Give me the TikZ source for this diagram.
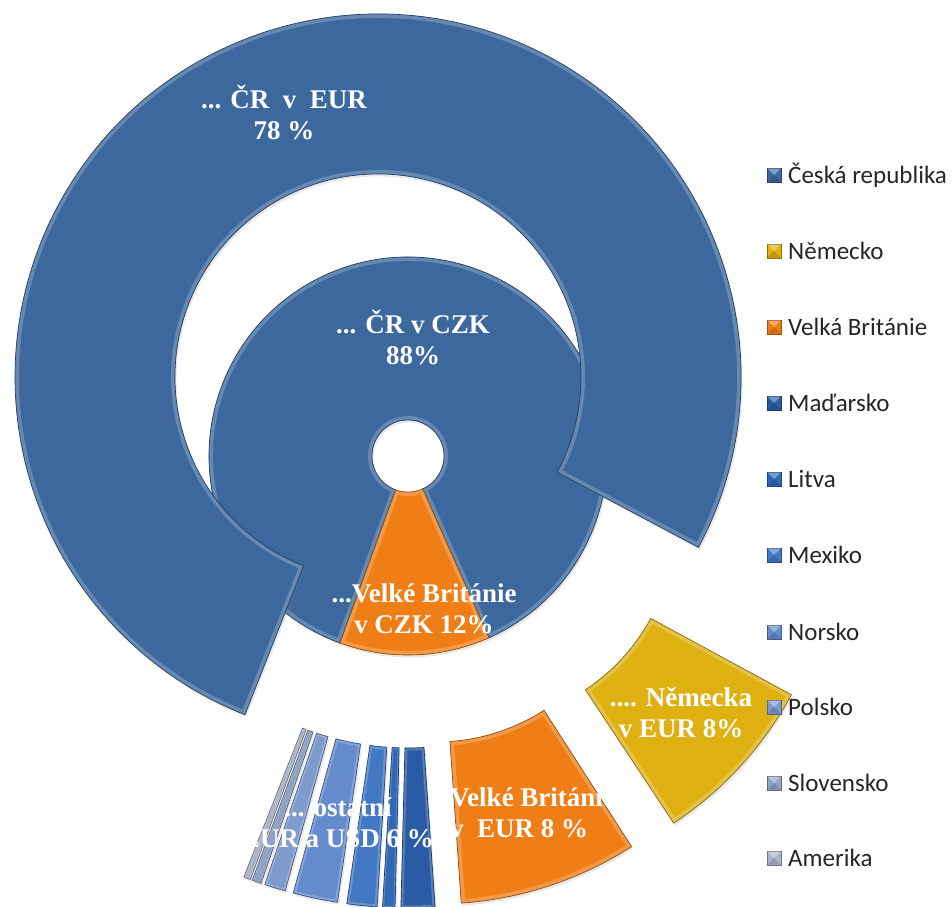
\documentclass[tikz,border=0pt]{standalone}
\usepackage{fontspec}
\setmainfont{Liberation Serif}
\newfontfamily\legfont{Carlito}
\usetikzlibrary{calc,shadows}
\definecolor{crblue}{RGB}{60,104,158}
\definecolor{ukor}{RGB}{240,126,22}
\definecolor{deyel}{RGB}{222,176,18}
\definecolor{huc}{RGB}{42,92,165}
\definecolor{ltc}{RGB}{48,104,182}
\definecolor{mxc}{RGB}{66,120,196}
\definecolor{noc}{RGB}{100,140,205}
\definecolor{plc}{RGB}{125,155,205}
\definecolor{skc}{RGB}{145,163,196}
\definecolor{amc}{RGB}{172,182,202}
\tikzset{
  seglabel/.style={text=white, font=\fontsize{27}{31}\selectfont\bfseries, align=center, inner sep=0pt},
  legtext/.style={anchor=west, font=\legfont\fontsize{25}{28}\selectfont, text=black!85, inner sep=0pt},
  legmark/.style={minimum size=14pt, inner sep=0pt, draw=#1!65!black, fill=#1, line width=0.6pt},
}
% #1 colour, #2 centre, #3 inner radius, #4 outer radius, #5 start angle, #6 end angle, #7 highlight width
\newcommand\ringseg[7]{%
  \def\segp{(#5:#4) arc[start angle=#5,end angle=#6,radius=#4] -- (#6:#3) arc[start angle=#6,end angle=#5,radius=#3] -- cycle}%
  \begin{scope}[shift={(#2)}]
    \fill[#1, drop shadow={opacity=0.18, shadow xshift=1.5pt, shadow yshift=-2.5pt}] \segp;
    \begin{scope}
      \clip \segp;
      \draw[white, opacity=0.22, line width=#7] \segp;
    \end{scope}
    \draw[#1!60!black, line width=0.7pt] \segp;
  \end{scope}}
\begin{document}
\begin{tikzpicture}[x=1pt,y=1pt]
\clip (0,0) rectangle (952,906);
\fill[white] (0,0) rectangle (952,906);
% inner ring
\ringseg{crblue}{408,450}{36}{199}{-66}{250}{8pt}
\ringseg{ukor}{408,450}{36}{199}{-110}{-66}{8pt}
% outer ring
\ringseg{crblue}{378,529}{203}{363}{-28}{248.5}{8pt}
\ringseg{deyel}{475,383}{200}{360}{-56.5}{-28.5}{8pt}
\ringseg{ukor}{436,364}{200}{362}{-86}{-57.3}{8pt}
\ringseg{huc}{$(408,448)+(-88.725:90)$}{200}{360}{-91.45}{-86}{5pt}
\ringseg{ltc}{$(408,448)+(-92.45:90)$}{200}{360}{-93.45}{-91.45}{3pt}
\ringseg{mxc}{$(408,448)+(-95.875:90)$}{200}{360}{-98.3}{-93.45}{5pt}
\ringseg{noc}{$(408,448)+(-101.9:90)$}{200}{360}{-105.5}{-98.3}{5pt}
\ringseg{plc}{$(408,448)+(-107.2:90)$}{200}{360}{-108.9}{-105.5}{4pt}
\ringseg{skc}{$(408,448)+(-109.65:90)$}{200}{360}{-110.4}{-108.9}{2pt}
\ringseg{amc}{$(408,448)+(-110.95:90)$}{200}{360}{-111.5}{-110.4}{2pt}
% data labels
\node[seglabel] (lcreur) at (284,793.5) {... ČR\ \ v\ \ EUR\\78 \%};
\node[seglabel] (lcrczk) at (413,568.5) {... ČR v CZK\\88\%};
\node[seglabel] (lukczk) at (424,297.5) {...Velké Británie\\v CZK 12\%};
\node[seglabel] (lde) at (681,193.5) {.... Německa\\v EUR 8\%};
\node[seglabel, align=left, anchor=west] (lukeur) at (450,93.5) {Velké Británie\\v\ \ EUR 8 \%};
\node[seglabel] (loth) at (338,83.5) {... ostatní\\EUR a USD 6 \%};
% legend
\node[legmark=crblue] (m1) at (774,731) {}; \node[legtext] (t1) at (788,731) {Česká republika};
\node[legmark=deyel] (m2) at (774,655) {}; \node[legtext] (t2) at (788,655) {Německo};
\node[legmark=ukor] (m3) at (774,579) {}; \node[legtext] (t3) at (788,579) {Velká Británie};
\node[legmark=huc] (m4) at (774,503) {}; \node[legtext] (t4) at (788,503) {Maďarsko};
\node[legmark=ltc] (m5) at (774,427) {}; \node[legtext] (t5) at (788,427) {Litva};
\node[legmark=mxc] (m6) at (774,351) {}; \node[legtext] (t6) at (788,351) {Mexiko};
\node[legmark=noc] (m7) at (774,274) {}; \node[legtext] (t7) at (788,274) {Norsko};
\node[legmark=plc] (m8) at (774,199) {}; \node[legtext] (t8) at (788,199) {Polsko};
\node[legmark=skc] (m9) at (774,123) {}; \node[legtext] (t9) at (788,123) {Slovensko};
\node[legmark=amc] (m10) at (774,48) {}; \node[legtext] (t10) at (788,48) {Amerika};
\foreach \m in {m1,m2,m3,m4,m5,m6,m7,m8,m9,m10}{
  \fill[white, opacity=0.35] ([shift={(0.6,-0.6)}]\m.north west) -- ([shift={(-0.6,-0.6)}]\m.north east) -- (\m.center) -- cycle;
  \fill[black, opacity=0.15] ([shift={(0.6,0.6)}]\m.south west) -- ([shift={(-0.6,0.6)}]\m.south east) -- (\m.center) -- cycle;
}
\end{tikzpicture}
\end{document}
